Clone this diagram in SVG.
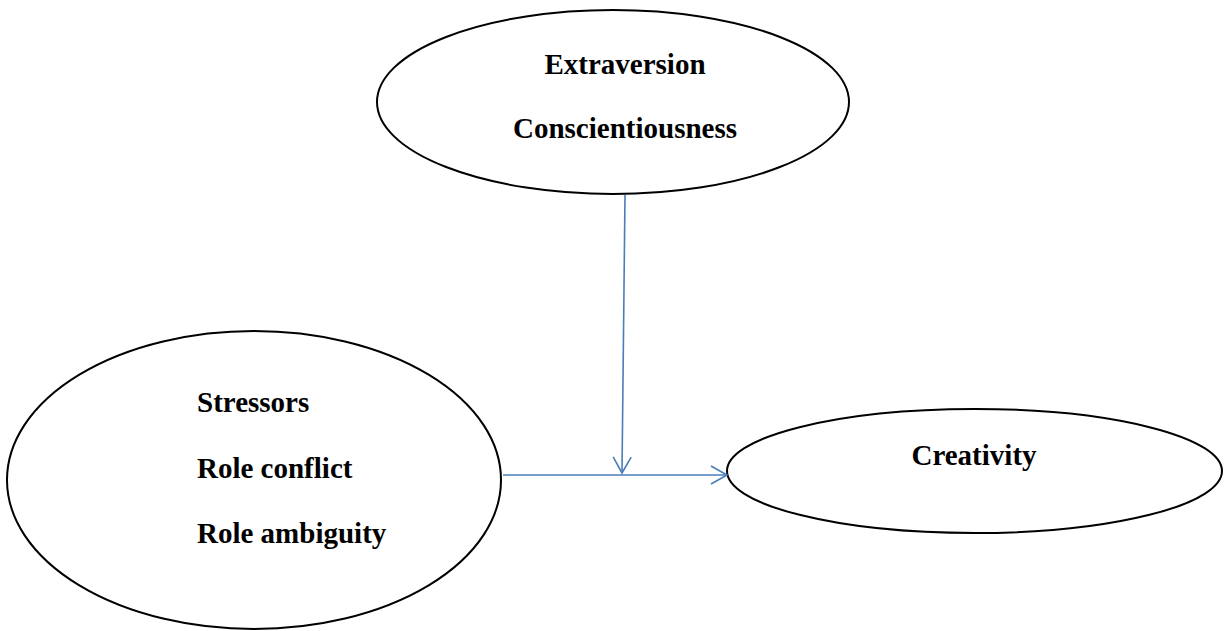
<svg xmlns="http://www.w3.org/2000/svg" width="1225" height="631" viewBox="0 0 1225 631">
<style>
.node ellipse{fill:#fff;stroke:#000;stroke-width:2}
.lbl{font-family:"Liberation Serif","Times New Roman",serif;font-weight:bold;font-size:29px;fill:#000}
.conn line{stroke:#4a7ebb;stroke-width:1.6;fill:none}
</style>
<defs>
<marker id="arr" viewBox="0 0 20 20" refX="18" refY="10" markerWidth="20" markerHeight="20" markerUnits="userSpaceOnUse" orient="auto">
<path d="M2,1 L18,10 L2,19" fill="none" stroke="#4a7ebb" stroke-width="1.6"/>
</marker>
</defs>
<rect width="1225" height="631" fill="#fff"/>
<g id="moderator" class="node">
<ellipse cx="613" cy="102" rx="236" ry="92"/>
<text class="lbl" x="625" y="74" text-anchor="middle">Extraversion</text>
<text class="lbl" x="625" y="138" text-anchor="middle">Conscientiousness</text>
</g>
<g id="stressors" class="node">
<ellipse cx="254" cy="480" rx="247" ry="149"/>
<text class="lbl" x="197" y="412">Stressors</text>
<text class="lbl" x="197" y="478">Role conflict</text>
<text class="lbl" x="197" y="543">Role ambiguity</text>
</g>
<g id="creativity" class="node">
<ellipse cx="974.5" cy="471" rx="247.5" ry="62"/>
<text class="lbl" x="974" y="465" text-anchor="middle">Creativity</text>
</g>
<g id="connectors" class="conn">
<line x1="503" y1="475" x2="727" y2="475" marker-end="url(#arr)"/>
<line x1="625" y1="195" x2="622" y2="473" marker-end="url(#arr)"/>
</g>
</svg>
